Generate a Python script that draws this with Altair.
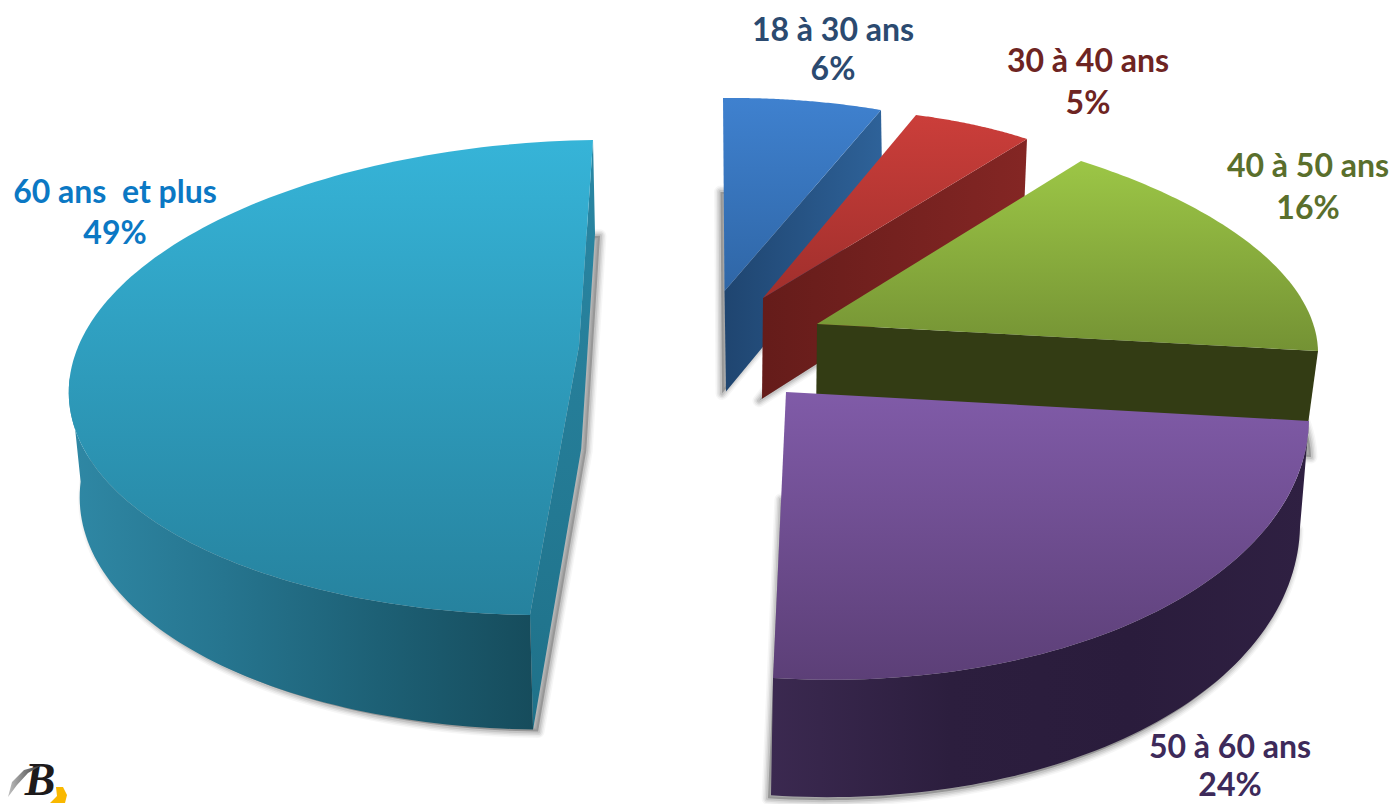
import math
import altair as alt
import pandas as pd

# ---- values ----
categories = ["18 à 30 ans", "30 à 40 ans", "40 à 50 ans", "50 à 60 ans", "60 ans \u00a0et plus"]
shares = [6, 5, 16, 24, 49]
label_colors = ["#2b4a70", "#6e2422", "#5a6f2c", "#3d2a5a", "#0b78c4"]
label_x = [833, 1088, 1308, 1230, 115]
label_y = [31, 62, 167, 748, 193]
pct_y = [70, 104, 209, 786, 234]

# ---- layout of the perspective drawing (page pixels) ----
W, H = 1389, 804   # the page keeps an 8px margin on every side
apex = [(724.5, 291), (763, 298), (817, 324), (786, 392), (579, 346)]
rim_start = [(723, 98), (916, 115), (1081, 161), (1309, 421), (530, 615)]
rim_end = [(881, 110), (1027, 139), (1318, 351), (773, 678), (593, 140)]
left_pole = (69, 385)
rim_bulge = [0, 0, 0, 0.035, 0]
depth_x = [(724.5, 1.0, 1.5), (763, 0.989, -1), (817, 0.974, -1), (773, 0.987, -2), (593, 0.983, 2)]
shadow_shift = [(-4, 2), (-3, 2), (7, 3), (-3, 3), (5, 2)]

top_grad = [("#3f81cf", "#2f66a6"), ("#cb3e3a", "#a02f2c"), ("#9cc646", "#749234"),
            ("#805ba8", "#5c3f77"), ("#36b4d8", "#26829e")]
cut_wall = [["#1f4570", "#2e6299"], ["#651c1a", "#842624"], ["#333c14", "#323b14"]]
purple_wall = ["#3b2950", "#2c1e3e", "#2a1c3c", "#2f2042"]
big_wall = ["#2f88a5", "#26758f", "#1d6075", "#164c5c"]


def depth(p, i):
    x, y = p
    px, sx, dx = depth_x[i]
    return (px + (x - px) * sx + dx, y + 92 + (y - 98) * 0.0437)


def small_arc(i, t0, t1, n=70):
    a = apex[i]
    u0, v0 = math.sin(t0), -math.cos(t0)
    u1, v1 = math.sin(t1), -math.cos(t1)
    det = u0 * v1 - u1 * v0
    ax0, ay0 = rim_start[i][0] - a[0], rim_start[i][1] - a[1]
    ax1, ay1 = rim_end[i][0] - a[0], rim_end[i][1] - a[1]
    c1 = ((ax0 * v1 - ax1 * v0) / det, (ay0 * v1 - ay1 * v0) / det)
    c2 = ((u0 * ax1 - u1 * ax0) / det, (u0 * ay1 - u1 * ay0) / det)
    pts = []
    for m in range(n + 1):
        f = m / n
        t = t0 + (t1 - t0) * f
        u, v = math.sin(t), -math.cos(t)
        g = 1 + rim_bulge[i] * math.sin(math.pi * f)
        pts.append((a[0] + g * (c1[0] * u + c2[0] * v), a[1] + g * (c1[1] * u + c2[1] * v)))
    return pts


def big_arc(i, t0, n=140):
    # the big slice spans almost a half turn: its far left pole is the third fixed point
    P0, T, L = rim_start[i], rim_end[i], left_pole
    s, k = math.sin(t0), math.cos(t0)
    q = 1 + s - k
    c = tuple((P0[j] + s * L[j] - k * T[j]) / q for j in (0, 1))
    c1 = (c[0] - L[0], c[1] - L[1])
    c2 = (c[0] - T[0], c[1] - T[1])
    pts = []
    for m in range(n + 1):
        t = t0 * (1 - m / n)
        pts.append((c[0] + c1[0] * math.sin(t) - c2[0] * math.cos(t),
                    c[1] + c1[1] * math.sin(t) - c2[1] * math.cos(t)))
    return pts


x_scale = alt.Scale(domain=[8, W], range=[0, W - 8], nice=False, zero=False)
y_scale = alt.Scale(domain=[H, 8], range=[H - 8, 0], nice=False, zero=False)
X = alt.X("x:Q", scale=x_scale, axis=None)
Y = alt.Y("y:Q", scale=y_scale, axis=None)


def poly(points, **mark):
    df = pd.DataFrame({"x": [p[0] for p in points], "y": [p[1] for p in points],
                       "o": list(range(len(points)))})
    return alt.Chart(df).mark_line(interpolate="linear-closed", **mark).encode(
        x=X, y=Y, order=alt.Order("o:Q"))


def vgrad(a, b):
    return alt.Gradient(gradient="linear", x1=0, x2=0, y1=0, y2=1,
                        stops=[alt.GradientStop(offset=0, color=a), alt.GradientStop(offset=1, color=b)])


def hgrad(stops):
    n = len(stops) - 1
    return alt.Gradient(gradient="linear", x1=0, x2=1, y1=0, y2=0,
                        stops=[alt.GradientStop(offset=j / n, color=c) for j, c in enumerate(stops)])


shadow_layers, body_layers = [], []
cum = 0.0
for i, share in enumerate(shares):
    t0 = cum * 3.6 * math.pi / 180
    cum += share
    t1 = cum * 3.6 * math.pi / 180
    big = share >= 40
    arc = big_arc(i, t0 - 2 * math.pi) if big else small_arc(i, t0, t1)
    a = apex[i]
    low_arc = [depth(p, i) for p in arc]
    low_a = depth(a, i)

    # soft drop shadow: the floor face, widened in translucent steps
    sdx, sdy = shadow_shift[i]
    sh = [(x + sdx, y + sdy) for x, y in low_arc + [low_a]]
    for sw, op in ((13, 0.035), (10, 0.05), (7, 0.07), (4, 0.09)):
        shadow_layers.append(poly(sh, fill="#000000", fillOpacity=op, stroke="#000000",
                                  strokeOpacity=op, strokeWidth=sw, strokeJoin="round"))

    if i <= 1:
        body_layers.append(poly([a, arc[-1], low_arc[-1], low_a], fill=hgrad(cut_wall[i]), stroke=None))
    elif i == 2:
        body_layers.append(poly([a, arc[-1], low_arc[-1], low_a], fill=cut_wall[i][0], stroke=None))
    elif i == 3:
        body_layers.append(poly(arc + low_arc[::-1], fill=hgrad(purple_wall), stroke=None))
    else:
        cut = [arc[-1], low_arc[-1], low_a, low_arc[0], arc[0], a]
        body_layers.append(poly(cut, fill=vgrad("#2a87a4", "#1f7189"), stroke=None))
        # the rim wall stops at the left pole, where the outline turns away from the viewer
        half = len(arc) // 2
        body_layers.append(poly(arc[:half + 1] + low_arc[:half + 1][::-1], fill=hgrad(big_wall), stroke=None))
    body_layers.append(poly(arc + [a], fill=vgrad(*top_grad[i]), stroke=None))

labels = pd.DataFrame({
    "name": categories + [f"{s}%" for s in shares],
    "x": label_x + label_x,
    "y": label_y + pct_y,
    "c": label_colors + label_colors,
})
text = alt.Chart(labels).mark_text(font="Lato", fontWeight="bold", fontSize=32, align="center",
                                   baseline="middle").encode(
    x=X, y=Y, text="name:N", color=alt.Color("c:N", scale=None))

# small publisher mark in the corner
logo_df = pd.DataFrame({"x": [40], "y": [795], "t": ["B"]})
logo = alt.Chart(logo_df).mark_text(font="Liberation Serif", fontWeight="bold", fontStyle="italic",
                                    fontSize=46, color="#1d1a1b", align="center",
                                    baseline="alphabetic").encode(x=X, y=Y, text="t:N")
logo_yellow = poly([(50, 803), (57, 796), (56, 787), (63, 787), (67, 795), (65, 803)], fill="#f9b800", stroke=None)
logo_grey = poly([(8, 797), (12, 782), (24, 770), (42, 765), (28, 773), (17, 785)],
                 fill=hgrad(["#c0c0c0", "#333333"]), stroke=None)

chart = alt.layer(*shadow_layers, *body_layers, logo_yellow, logo, logo_grey, text).properties(
    width=W - 8, height=H - 8, padding=0,
    autosize=alt.AutoSizeParams(type="none"),
    background="#ffffff",
).configure_view(stroke=None)

chart.save("out.html", embed_options={"renderer": "svg", "actions": False})
